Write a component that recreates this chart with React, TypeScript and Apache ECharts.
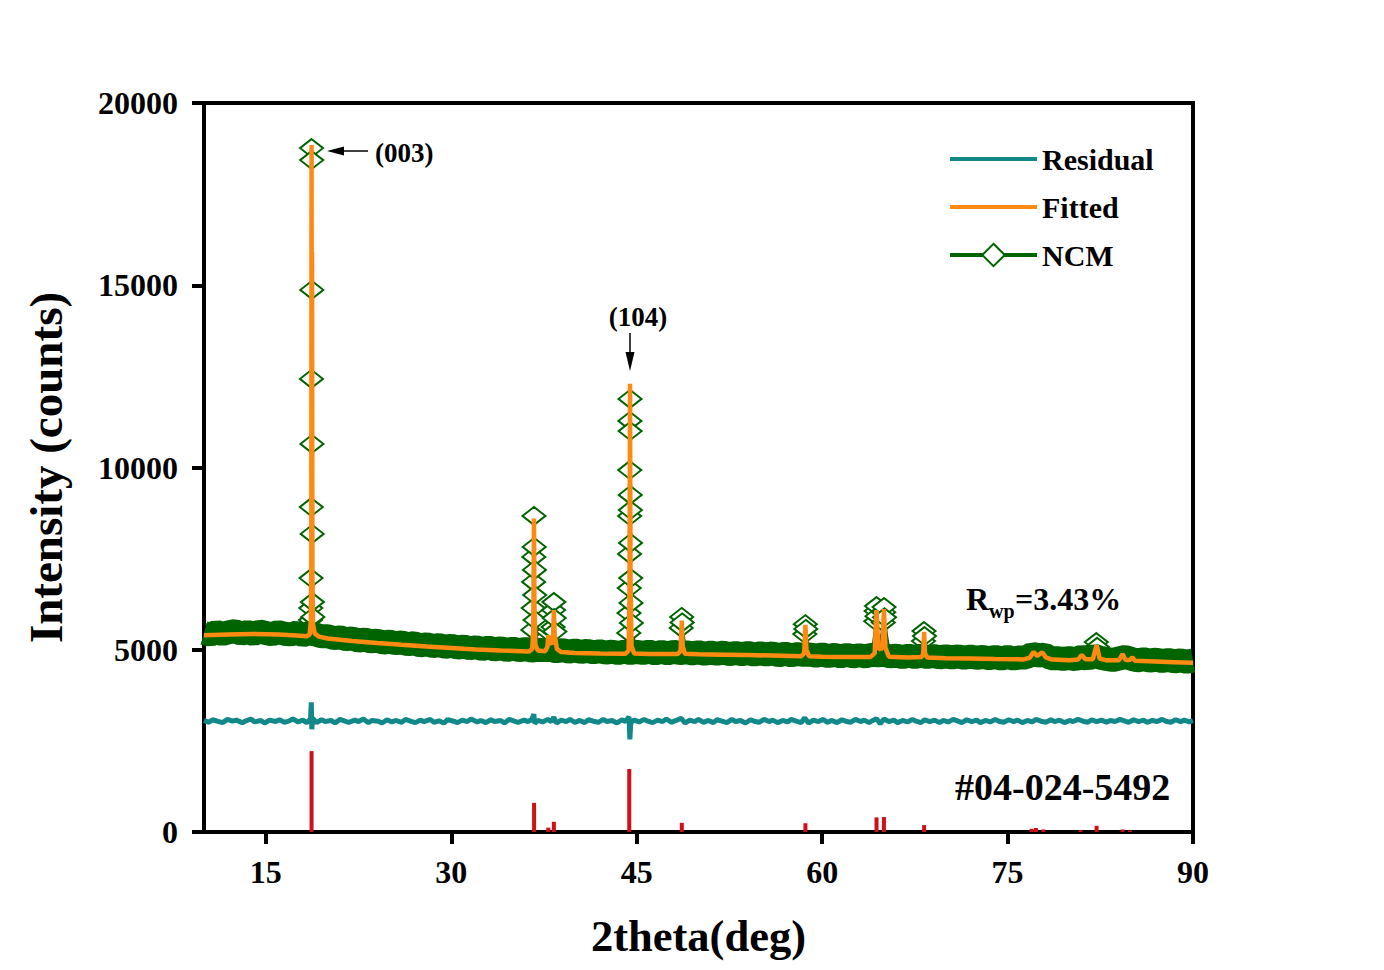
import React, { useEffect, useRef } from 'react';
import * as echarts from 'echarts';

const FONT = '"Liberation Serif", "Times New Roman", serif';

const teal = '#128889';
const orange = '#ff8a12';
const green = '#006400';
const red = '#d01018';

// x tick positions and y range
const xTicks = [15, 30, 45, 60, 75, 90];
const yTicks = { min: 0, max: 20000, interval: 5000 };

// observed NCM background band (centre of the noisy band)
const ncmBackground: [number, number][] = [
  [10, 5460], [10.5, 5410], [11, 5490], [11.5, 5430], [12, 5480], [12.5, 5510], [13, 5440], [13.5, 5490],
  [14, 5430], [14.5, 5500], [15, 5460], [15.5, 5420], [16, 5490], [16.5, 5440], [17, 5420], [17.5, 5470],
  [18, 5400], [18.5, 5450], [19, 5420], [19.5, 5370], [20, 5370], [20.5, 5320], [21, 5340], [21.5, 5290],
  [22, 5310], [22.5, 5250], [23, 5280], [23.5, 5230], [24, 5250], [24.5, 5200], [25, 5220], [25.5, 5180],
  [26, 5200], [26.5, 5150], [27, 5180], [27.5, 5120], [28, 5150], [28.5, 5100], [29, 5130], [29.5, 5080],
  [30, 5110], [30.5, 5060], [31, 5090], [31.5, 5040], [32, 5070], [32.5, 5020], [33, 5060], [33.5, 5010],
  [34, 5040], [34.5, 4990], [35, 5030], [35.5, 4990], [36, 5020], [36.5, 4980], [37, 5000], [37.5, 4990],
  [38, 5000], [38.5, 4960], [39, 4990], [39.5, 4950], [40, 4980], [40.5, 4940], [41, 4970], [41.5, 4930],
  [42, 4960], [42.5, 4920], [43, 4950], [43.5, 4910], [44, 4950], [44.5, 4910], [45, 4940], [45.5, 4910],
  [46, 4950], [46.5, 4900], [47, 4940], [47.5, 4900], [48, 4940], [48.5, 4910], [49, 4930], [49.5, 4900],
  [50, 4930], [50.5, 4890], [51, 4920], [51.5, 4890], [52, 4920], [52.5, 4880], [53, 4910], [53.5, 4880],
  [54, 4910], [54.5, 4870], [55, 4900], [55.5, 4870], [56, 4900], [56.5, 4850], [57, 4890], [57.5, 4850],
  [58, 4880], [58.5, 4860], [59, 4870], [59.5, 4840], [60, 4870], [60.5, 4830], [61, 4860], [61.5, 4820],
  [62, 4860], [62.5, 4820], [63, 4850], [63.5, 4820], [64, 4860], [64.5, 4850], [65, 4860], [65.5, 4820],
  [66, 4840], [66.5, 4800], [67, 4840], [67.5, 4800], [68, 4840], [68.5, 4800], [69, 4830], [69.5, 4790],
  [70, 4820], [70.5, 4790], [71, 4820], [71.5, 4780], [72, 4810], [72.5, 4780], [73, 4800], [73.5, 4770],
  [74, 4800], [74.5, 4760], [75, 4800], [75.5, 4760], [76, 4790], [76.5, 4790], [77, 4890], [77.5, 4840],
  [78, 4870], [78.5, 4770], [79, 4770], [79.5, 4750], [80, 4770], [80.5, 4740], [81, 4810], [81.5, 4750],
  [82, 4840], [82.5, 4780], [83, 4750], [83.5, 4720], [84, 4760], [84.5, 4800], [85, 4750], [85.5, 4710],
  [86, 4740], [86.5, 4700], [87, 4730], [87.5, 4690], [88, 4720], [88.5, 4680], [89, 4710], [89.5, 4670],
  [90, 4700],
];

// observed NCM points on the peaks (drawn as hollow diamonds)
const ncmPeaks: [number, number][] = [
  [18.62, 5816], [18.64, 6145], [18.66, 6968], [18.68, 8916], [18.69, 12428], [18.7, 18765],
  [18.71, 18436], [18.72, 14870], [18.73, 10645], [18.75, 8176], [18.77, 6310], [18.8, 5900],
  [36.6, 5542], [36.63, 6145], [36.66, 6859], [36.68, 7545], [36.69, 8670], [36.71, 7819],
  [36.73, 7188], [36.75, 6502], [36.78, 5816],
  [37.8, 5500], [37.86, 5620],
  [38.24, 5624], [38.28, 6090], [38.3, 6310], [38.33, 5871], [38.38, 5500],
  [44.36, 5460], [44.38, 6008], [44.4, 6694], [44.42, 7627], [44.43, 8669], [44.44, 9931],
  [44.45, 11276], [44.46, 11880], [44.47, 11001], [44.48, 9246], [44.49, 8834], [44.5, 7929],
  [44.52, 6968], [44.54, 6283], [44.57, 5734],
  [48.6, 5600], [48.64, 5900], [48.68, 5750],
  [58.6, 5430], [58.64, 5700], [58.68, 5570],
  [64.34, 5780], [64.37, 6060], [64.4, 6200], [64.44, 5920],
  [64.95, 5750], [64.98, 6030], [65.01, 6170], [65.05, 5890],
  [68.2, 5240], [68.24, 5514], [68.28, 5377],
  [82.18, 5210], [82.25, 5080],
];

// Rietveld fitted profile
const fitted: [number, number][] = [
  [10, 5400], [12, 5420], [14, 5430], [16, 5420], [17.5, 5390], [18.3, 5370], [18.55, 5420], [18.64, 5800],
  [18.68, 7500], [18.7, 18850], [18.72, 12000], [18.74, 15900], [18.77, 7000], [18.82, 5700], [18.95, 5450],
  [19.3, 5360], [20, 5310], [22, 5240], [24, 5185], [26, 5135], [28, 5090], [30, 5050], [32, 5010], [34, 4980],
  [36.3, 4955], [36.55, 5020], [36.64, 5600], [36.69, 8600], [36.73, 6200], [36.8, 5150], [37, 4980],
  [37.6, 4960], [37.78, 5080], [37.85, 5400], [37.93, 5250], [38.15, 5150], [38.24, 5400], [38.3, 6090],
  [38.37, 5400], [38.55, 5020], [38.9, 4935], [40, 4910], [42, 4895], [44.1, 4890], [44.35, 4980],
  [44.42, 6500], [44.46, 12300], [44.5, 7000], [44.58, 5100], [44.8, 4900], [46, 4885], [48.3, 4880],
  [48.55, 4960], [48.65, 5800], [48.72, 5100], [48.9, 4890], [50, 4875], [52, 4865], [54, 4855], [56, 4840],
  [58.3, 4820], [58.55, 4900], [58.65, 5680], [58.73, 5000], [58.95, 4820], [60, 4810], [62, 4800],
  [63.9, 4800], [64.25, 4900], [64.4, 6090], [64.55, 5050], [64.75, 5000], [64.9, 5150], [65, 6118],
  [65.12, 5050], [65.4, 4810], [67, 4790], [68.05, 4800], [68.18, 4900], [68.25, 5490], [68.32, 4900],
  [68.5, 4790], [70, 4770], [72, 4760], [74, 4745], [76.3, 4735], [76.8, 4780], [77.1, 4940], [77.4, 4830],
  [77.8, 4930], [78.1, 4790], [78.6, 4730], [80, 4715], [80.7, 4730], [81, 4860], [81.3, 4740], [81.9, 4740],
  [82.2, 5130], [82.45, 4760], [83, 4710], [84, 4710], [84.3, 4880], [84.55, 4720], [84.9, 4720], [85.1, 4790],
  [85.3, 4700], [87, 4680], [88.5, 4660], [90, 4640],
];

// difference curve (offset)
const residual: [number, number][] = [
  [10, 3060], [10.4, 3010], [10.7, 3080], [11.2, 3030], [11.5, 3000], [11.9, 3090], [12.3, 3040], [12.6, 3070],
  [13.1, 3000], [13.4, 3050], [13.8, 3100], [14.1, 3020], [14.6, 3060], [14.9, 2990], [15.3, 3070], [15.8, 3030],
  [16.1, 3080], [16.5, 3010], [16.9, 3050], [17.2, 3100], [17.6, 3020], [18.0, 3070], [18.3, 3000], [18.62, 3100],
  [18.68, 3560], [18.72, 2820], [18.8, 3120], [19.1, 3000], [19.5, 3080], [19.8, 3030], [20.3, 3060], [20.6, 2990],
  [21.0, 3090], [21.4, 3040], [21.7, 3010], [22.2, 3070], [22.5, 3030], [22.9, 3100], [23.3, 3000], [23.6, 3060],
  [24.1, 3040], [24.4, 2990], [24.8, 3080], [25.2, 3020], [25.5, 3060], [26.0, 3010], [26.3, 3090], [26.7, 3040],
  [27.1, 3000], [27.5, 3070], [27.8, 3030], [28.3, 3090], [28.6, 3010], [29.0, 3050], [29.4, 2990], [29.7, 3080],
  [30.2, 3040], [30.5, 3000], [30.9, 3070], [31.3, 3030], [31.6, 3100], [32.1, 3020], [32.4, 3060], [32.8, 3000],
  [33.2, 3080], [33.5, 3030], [34.0, 3060], [34.3, 2990], [34.7, 3090], [35.1, 3040], [35.4, 3010], [35.9, 3070],
  [36.2, 3030], [36.5, 3080], [36.68, 3230], [36.75, 2980], [37.0, 3060], [37.4, 3020], [37.8, 3090], [38.1, 3030],
  [38.3, 3150], [38.5, 2990], [38.9, 3070], [39.3, 3030], [39.6, 3090], [40.0, 3010], [40.4, 3060], [40.8, 3000],
  [41.1, 3080], [41.5, 3040], [41.9, 3010], [42.3, 3090], [42.6, 3030], [43.0, 3060], [43.4, 2990], [43.8, 3080],
  [44.1, 3030], [44.38, 3160], [44.45, 2540], [44.52, 3000], [44.8, 3070], [45.2, 3020], [45.6, 3090], [45.9, 3040],
  [46.3, 3000], [46.7, 3070], [47.1, 3030], [47.4, 3100], [47.8, 3010], [48.2, 3060], [48.6, 3120], [48.9, 2990],
  [49.3, 3070], [49.7, 3030], [50.0, 3090], [50.4, 3010], [50.8, 3060], [51.2, 3000], [51.5, 3080], [51.9, 3040],
  [52.3, 3000], [52.7, 3090], [53.0, 3030], [53.4, 3060], [53.8, 2990], [54.2, 3080], [54.5, 3040], [54.9, 3010],
  [55.3, 3090], [55.7, 3030], [56.0, 3070], [56.4, 3000], [56.8, 3060], [57.2, 3020], [57.5, 3090], [57.9, 3040],
  [58.3, 3000], [58.6, 3130], [58.9, 2990], [59.3, 3070], [59.7, 3030], [60.1, 3090], [60.4, 3010], [60.8, 3060],
  [61.2, 3000], [61.6, 3080], [61.9, 3040], [62.3, 3010], [62.7, 3090], [63.1, 3030], [63.4, 3070], [63.8, 3000],
  [64.1, 3060], [64.4, 3110], [64.7, 2970], [65.0, 3100], [65.4, 3030], [65.8, 3070], [66.1, 3000], [66.5, 3060],
  [66.9, 3020], [67.3, 3090], [67.6, 3040], [68.0, 3000], [68.3, 3080], [68.7, 3030], [69.1, 3070], [69.5, 3000],
  [69.8, 3060], [70.2, 3020], [70.6, 3090], [71.0, 3040], [71.3, 3000], [71.7, 3080], [72.1, 3030], [72.5, 3070],
  [72.8, 3000], [73.2, 3060], [73.6, 3020], [74.0, 3090], [74.3, 3040], [74.7, 3010], [75.1, 3080], [75.5, 3030],
  [75.8, 3070], [76.2, 3000], [76.6, 3060], [77.0, 3020], [77.3, 3090], [77.7, 3040], [78.1, 3010], [78.5, 3080],
  [78.8, 3030], [79.2, 3070], [79.6, 3000], [80.0, 3060], [80.3, 3030], [80.7, 3090], [81.1, 3040], [81.5, 3010],
  [81.8, 3080], [82.2, 3030], [82.6, 3070], [83.0, 3010], [83.3, 3060], [83.7, 3030], [84.1, 3090], [84.5, 3040],
  [84.8, 3010], [85.2, 3080], [85.6, 3030], [86.0, 3070], [86.3, 3010], [86.7, 3060], [87.1, 3030], [87.5, 3090],
  [87.8, 3040], [88.2, 3010], [88.6, 3080], [89.0, 3030], [89.3, 3070], [89.7, 3020], [90.0, 3060],
];

// reference pattern #04-024-5492 (stick positions and heights)
const pdfSticks: [number, number][] = [
  [18.7, 2220], [36.7, 800], [37.85, 120], [38.3, 280], [44.4, 1730], [48.65, 250], [58.65, 240],
  [64.4, 400], [65.0, 410], [68.25, 190], [76.95, 90], [77.3, 110], [77.9, 70], [80.9, 50],
  [82.2, 170], [84.3, 70], [84.9, 40],
];

const hiddenSymbol = { color: 'rgba(0,0,0,0)', borderColor: 'rgba(0,0,0,0)', borderWidth: 0, opacity: 0 };

const App: React.FC = () => {
  const chartRef = useRef<HTMLDivElement>(null);

  useEffect(() => {
    document.body.style.margin = '0';
    if (!chartRef.current) return;
    const chart = echarts.init(chartRef.current, undefined, { renderer: 'svg' });

    const ncmData = [
      ...ncmBackground.map((p) => ({ value: p, symbol: 'none' })),
      ...ncmPeaks.map((p) => ({ value: p })),
    ].sort((a, b) => a.value[0] - b.value[0]);

    const boldText = (size: number) => ({
      fontFamily: FONT,
      fontWeight: 'bold' as const,
      fontSize: size,
      fill: '#000',
    });

    const option: echarts.EChartsOption = {
      animation: false,
      backgroundColor: '#fff',
      grid: {
        left: 204,
        right: 191,
        top: 103,
        bottom: 138,
        show: true,
        borderColor: '#000',
        borderWidth: 4,
      },
      legend: {
        data: [
          { name: 'Residual', itemStyle: hiddenSymbol },
          { name: 'Fitted', itemStyle: hiddenSymbol },
          { name: 'NCM' },
        ],
        orient: 'vertical',
        left: 943,
        top: 139,
        itemWidth: 87,
        itemHeight: 28,
        itemGap: 18,
        lineStyle: { width: 4 },
        textStyle: { fontFamily: FONT, fontWeight: 'bold', fontSize: 30, color: '#000', lineHeight: 30 },
      },
      xAxis: {
        type: 'value',
        min: 10,
        max: 90,
        name: '2theta(deg)',
        nameLocation: 'middle',
        nameGap: 81,
        nameTextStyle: { fontFamily: FONT, fontWeight: 'bold', fontSize: 44.5, color: '#000' },
        axisLine: { lineStyle: { color: '#000', width: 4 } },
        axisTick: { customValues: xTicks, length: 12, lineStyle: { width: 4, color: '#000' } },
        axisLabel: {
          customValues: xTicks,
          margin: 24,
          fontFamily: FONT,
          fontWeight: 'bold',
          fontSize: 32,
          color: '#000',
        },
        splitLine: { show: false },
      },
      yAxis: {
        type: 'value',
        min: yTicks.min,
        max: yTicks.max,
        interval: yTicks.interval,
        name: 'Intensity (counts)',
        nameLocation: 'middle',
        nameGap: 135,
        nameTextStyle: { fontFamily: FONT, fontWeight: 'bold', fontSize: 47, color: '#000' },
        axisLine: { show: true, lineStyle: { color: '#000', width: 4 } },
        axisTick: { show: true, length: 12, lineStyle: { width: 4, color: '#000' } },
        axisLabel: {
          margin: 26,
          fontFamily: FONT,
          fontWeight: 'bold',
          fontSize: 32,
          color: '#000',
          formatter: (v: number) => String(v),
        },
        splitLine: { show: false },
      },
      series: [
        {
          name: 'Residual',
          type: 'line',
          data: residual,
          symbol: 'none',
          z: 2,
          color: teal,
          lineStyle: { color: teal, width: 5 },
        },
        {
          name: 'NCM',
          type: 'line',
          data: ncmData as any,
          symbol: 'emptyDiamond',
          symbolSize: [23, 18],
          z: 2,
          color: green,
          itemStyle: { color: green, borderWidth: 2.5 },
          lineStyle: { color: green, width: 2 },
        },
        {
          name: 'NCM-band',
          type: 'line',
          data: ncmBackground,
          symbol: 'none',
          z: 3,
          lineStyle: { color: green, width: 24 },
        },
        {
          name: 'Fitted',
          type: 'line',
          data: fitted,
          symbol: 'none',
          z: 4,
          color: orange,
          lineStyle: { color: orange, width: 4.5 },
        },
        {
          name: 'PDF',
          type: 'bar',
          data: pdfSticks,
          barWidth: 4,
          z: 2,
          itemStyle: { color: red },
        },
      ],
      graphic: [
        { type: 'line', z: 100, shape: { x1: 368, y1: 151, x2: 340, y2: 151 }, style: { stroke: '#000', lineWidth: 1.5 } },
        { type: 'polygon', z: 100, shape: { points: [[327, 151], [344, 146.5], [344, 155.5]] }, style: { fill: '#000' } },
        { type: 'text', z: 100, x: 375, y: 153, style: { text: '(003)', ...boldText(27), align: 'left', verticalAlign: 'middle' } },
        { type: 'line', z: 100, shape: { x1: 630, y1: 333, x2: 630, y2: 355 }, style: { stroke: '#000', lineWidth: 1.5 } },
        { type: 'polygon', z: 100, shape: { points: [[630, 371], [625.5, 352], [634.5, 352]] }, style: { fill: '#000' } },
        { type: 'text', z: 100, x: 638, y: 317, style: { text: '(104)', ...boldText(27), align: 'center', verticalAlign: 'middle' } },
        { type: 'text', z: 100, x: 966, y: 599, style: { text: 'R', ...boldText(32), align: 'left', verticalAlign: 'middle' } },
        { type: 'text', z: 100, x: 989, y: 611, style: { text: 'wp', ...boldText(20), align: 'left', verticalAlign: 'middle' } },
        { type: 'text', z: 100, x: 1015, y: 599, style: { text: '=3.43%', ...boldText(32), align: 'left', verticalAlign: 'middle' } },
        { type: 'text', z: 100, x: 955, y: 787, style: { text: '#04-024-5492', ...boldText(38), align: 'left', verticalAlign: 'middle' } },
      ],
    };

    chart.setOption(option);

    return () => {
      chart.dispose();
    };
  }, []);

  return <div ref={chartRef} style={{ width: 1384, height: 970 }} />;
};

export default App;
